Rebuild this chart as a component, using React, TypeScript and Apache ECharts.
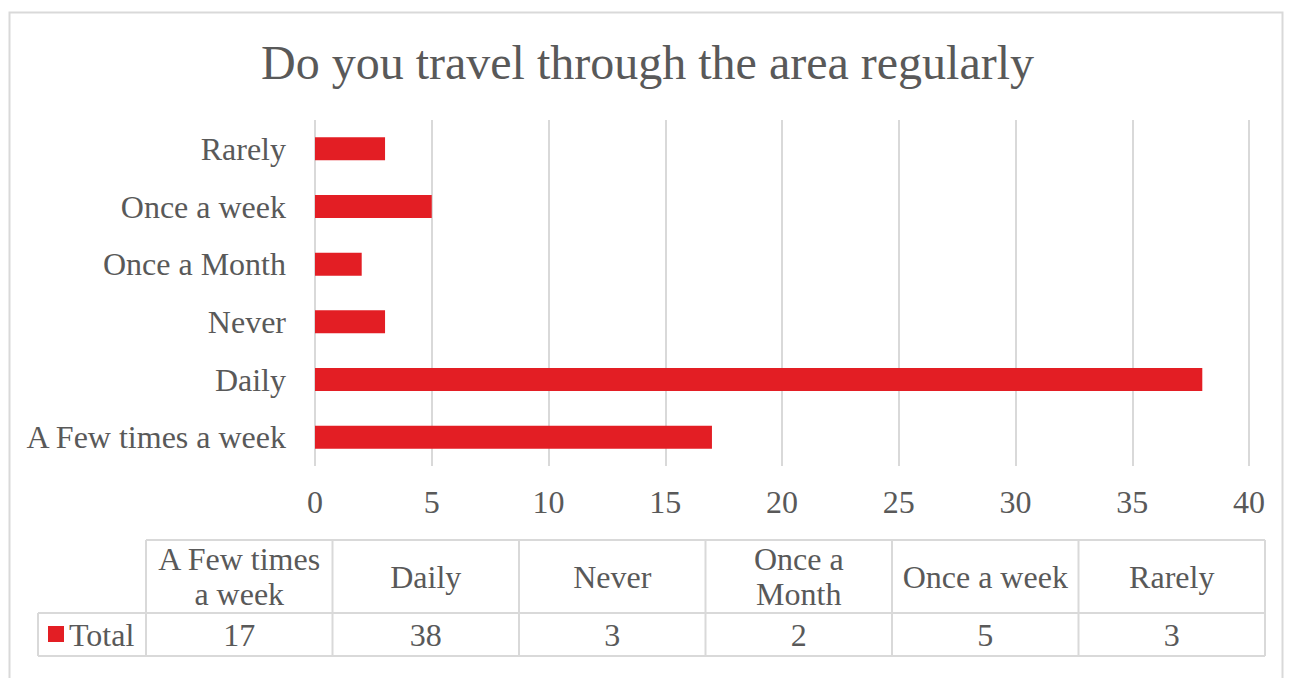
import React, { useEffect, useRef } from "react";
import * as echarts from "echarts";

const categories = ["A Few times a week", "Daily", "Never", "Once a Month", "Once a week", "Rarely"];
const headerLabels = ["A Few times\na week", "Daily", "Never", "Once a\nMonth", "Once a week", "Rarely"];
const totals = [17, 38, 3, 2, 5, 3];
const seriesName = "Total";
const titleText = "Do you travel through the area regularly";

const FONT = "'Liberation Serif', 'Times New Roman', serif";
const TXT = "#595959";
const GRID = "#d9d9d9";
const RED = "#E31E24";
const FS = 32;

export default function App() {
  const ref = useRef<HTMLDivElement>(null);
  useEffect(() => {
    if (!ref.current) return;
    const chart = echarts.init(ref.current, undefined, { renderer: "svg" });

    const tableLeft = 146;
    const tableRight = 1265;
    const legendLeft = 38;
    const rowTop = 540;
    const rowMid = 613;
    const rowBottom = 656;
    const n = categories.length;
    const colW = (tableRight - tableLeft) / n;

    const graphics: any[] = [];
    graphics.push({
      type: "rect",
      shape: { x: 9.5, y: 12.5, width: 1273, height: 720 },
      style: { fill: "none", stroke: GRID, lineWidth: 2 },
      silent: true,
    });
    const line = (x1: number, y1: number, x2: number, y2: number) => ({
      type: "line",
      shape: { x1, y1, x2, y2 },
      style: { stroke: GRID, lineWidth: 2 },
      silent: true,
    });
    graphics.push(line(tableLeft, rowTop, tableRight, rowTop));
    graphics.push(line(legendLeft, rowMid, tableRight, rowMid));
    graphics.push(line(legendLeft, rowBottom, tableRight, rowBottom));
    graphics.push(line(legendLeft, rowMid, legendLeft, rowBottom));
    for (let i = 0; i <= n; i++) {
      const x = tableLeft + i * colW;
      graphics.push(line(x, rowTop, x, rowBottom));
    }
    for (let i = 0; i < n; i++) {
      const cx = tableLeft + (i + 0.5) * colW;
      graphics.push({
        type: "text",
        x: cx,
        y: (rowTop + rowMid) / 2,
        style: {
          text: headerLabels[i],
          fill: TXT,
          font: `${FS}px ${FONT}`,
          align: "center",
          verticalAlign: "middle",
          lineHeight: 35,
        },
        silent: true,
      });
      graphics.push({
        type: "text",
        x: cx,
        y: (rowMid + rowBottom) / 2,
        style: {
          text: String(totals[i]),
          fill: TXT,
          font: `${FS}px ${FONT}`,
          align: "center",
          verticalAlign: "middle",
        },
        silent: true,
      });
    }
    graphics.push({
      type: "rect",
      shape: { x: 48, y: 626, width: 16, height: 16 },
      style: { fill: RED },
      silent: true,
    });
    graphics.push({
      type: "text",
      x: 69,
      y: (rowMid + rowBottom) / 2,
      style: {
        text: seriesName,
        fill: TXT,
        font: `${FS}px ${FONT}`,
        align: "left",
        verticalAlign: "middle",
      },
      silent: true,
    });

    chart.setOption({
      animation: false,
      backgroundColor: "#ffffff",
      title: {
        text: titleText,
        left: "center",
        top: 33,
        textStyle: { fontFamily: FONT, fontSize: 48, fontWeight: "normal", color: TXT },
      },
      grid: { left: 315, right: 46, top: 120, bottom: 212, containLabel: false },
      xAxis: {
        type: "value",
        min: 0,
        max: 40,
        interval: 5,
        axisLine: { show: false },
        axisTick: { show: false },
        splitLine: { show: true, lineStyle: { color: GRID, width: 2 } },
        axisLabel: { color: TXT, fontFamily: FONT, fontSize: FS, margin: 20 },
      },
      yAxis: {
        type: "category",
        data: categories,
        axisLine: { show: false },
        axisTick: { show: false },
        axisLabel: { color: TXT, fontFamily: FONT, fontSize: FS, margin: 29 },
      },
      series: [
        {
          name: seriesName,
          type: "bar",
          data: totals,
          barCategoryGap: "60%",
          itemStyle: { color: RED },
        },
      ],
      graphic: graphics,
    });
    return () => chart.dispose();
  }, []);
  return (
    <div
      ref={ref}
      style={{ position: "fixed", left: 0, top: 0, width: 1295, height: 678, background: "#fff" }}
    />
  );
}
